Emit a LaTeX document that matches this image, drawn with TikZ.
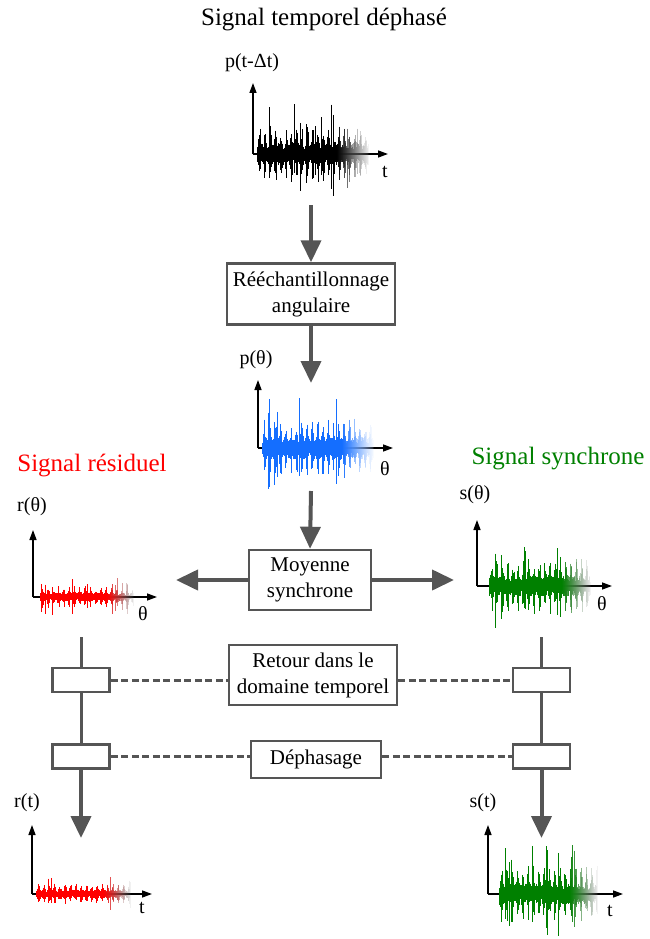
\documentclass[tikz,border=0pt]{standalone}
\usepackage{fontspec}
\setmainfont{Liberation Serif}
\usetikzlibrary{arrows.meta}
\definecolor{sigred}{RGB}{255,0,0}
\definecolor{siggreen}{RGB}{0,128,0}
\definecolor{sigblue}{RGB}{20,110,255}
\definecolor{boxgray}{RGB}{85,85,85}
\colorlet{fadeblue}{sigblue!30!white}
\colorlet{fadegray}{black!45}
\colorlet{fadebrown}{black!55}
\newcommand{\noisesig}[8]{%
  \pgfmathsetseed{#8}%
  \pgfmathtruncatemacro{\nsteps}{(#2-#1)/0.5}%
  \pgfmathsetmacro{\fs}{#1+0.72*(#2-#1)}%
  \foreach \k in {0,...,\nsteps}{%
    \pgfmathsetmacro{\xx}{#1+0.5*\k}%
    \pgfmathsetmacro{\fr}{\xx<\fs ? 0 : (\xx-\fs)/(#2-\fs)}%
    \pgfmathsetmacro{\op}{1-0.9*\fr}%
    \pgfmathtruncatemacro{\mixp}{100-100*\fr}%
    \pgfmathsetmacro{\envv}{0.5+0.9*abs(sin(34*(\xx-#1)))^6}%
    \pgfmathsetmacro{\isspk}{rnd<0.03 ? 1 : 0}%
    \pgfmathsetmacro{\up}{\isspk>0.5 ? #5*(0.45+0.55*rnd) : #4*\envv*(0.4+0.6*rnd)}%
    \pgfmathsetmacro{\dn}{\isspk>0.5 ? 0.85*#5*(0.45+0.55*rnd) : #4*\envv*(0.4+0.6*rnd)}%
    \draw[draw=#6!\mixp!#7, opacity=\op, line width=0.7pt] (\xx,#3-\up) -- (\xx,#3+\dn);
  }%
}
\tikzset{
  procbox/.style={draw=boxgray, line width=2.5pt, fill=white, align=center, inner sep=0pt,
    font=\rmfamily\fontsize{21}{26}\selectfont},
  smallbox/.style={draw=boxgray, line width=2.5pt, fill=white, inner sep=0pt,
    minimum width=57pt, minimum height=24pt},
  bigarrow/.style={draw=boxgray, line width=4pt, -{Triangle[width=20pt,length=22pt]}},
  connline/.style={draw=boxgray, line width=3pt},
  dashline/.style={draw=boxgray, line width=3pt, dash pattern=on 7pt off 3.5pt},
  axisline/.style={draw=black, line width=1.4pt, -{Triangle[width=7pt,length=10pt]}},
  axlabel/.style={font=\rmfamily\fontsize{20}{24}\selectfont, inner sep=0pt},
  bigtitle/.style={font=\rmfamily\fontsize{25}{30}\selectfont, inner sep=0pt}
}
\begin{document}
\begin{tikzpicture}[x=1pt, y=-1pt]
\useasboundingbox (0,0) rectangle (649,939);
% titles
\node[bigtitle] (title) at (324,20) {Signal temporel déphasé};
\node[bigtitle, text=sigred] (tres) at (92,466) {Signal résiduel};
\node[bigtitle, text=siggreen] (tsyn) at (558,459) {Signal synchrone};
% axes
\coordinate (o1) at (253,154); \coordinate (y1) at (253,83); \coordinate (x1) at (388,154);
\coordinate (o2) at (258,448); \coordinate (y2) at (258,380); \coordinate (x2) at (393,448);
\coordinate (o3) at (33,597); \coordinate (y3) at (33,530); \coordinate (x3) at (157,597);
\coordinate (o4) at (477,586); \coordinate (y4) at (477,520); \coordinate (x4) at (612,586);
\coordinate (o5) at (32,894); \coordinate (y5) at (32,825); \coordinate (x5) at (152,894);
\coordinate (o6) at (488,894); \coordinate (y6) at (488,825); \coordinate (x6) at (623,894);
\foreach \i in {1,...,6}{
  \draw[axisline] (o\i) -- (y\i);
  \draw[axisline] (o\i) -- (x\i);
}
\node[axlabel] (l1) at (252,63) {p(t-Δt)};
\node[axlabel] (t1) at (385,172) {t};
\node[axlabel] (l2) at (256,360) {p(θ)};
\node[axlabel] (t2) at (385,469) {θ};
\node[axlabel] (l3) at (32,507) {r(θ)};
\node[axlabel] (t3) at (143,614) {θ};
\node[axlabel] (l4) at (475,495) {s(θ)};
\node[axlabel] (t4) at (602,604) {θ};
\node[axlabel] (l5) at (27,803) {r(t)};
\node[axlabel] (t5) at (142,908) {t};
\node[axlabel] (l6) at (483,803) {s(t)};
\node[axlabel] (t6) at (610,911) {t};
% signals
\noisesig{257}{368}{154}{22}{50}{black}{fadegray}{11}
\noisesig{262}{373}{448}{22}{50}{sigblue}{fadeblue}{22}
\noisesig{40}{133}{597}{8}{22}{sigred}{fadebrown}{33}
\noisesig{489}{590}{586}{21}{52}{siggreen}{fadegray}{44}
\noisesig{36}{130}{894}{8}{21}{sigred}{fadebrown}{55}
\noisesig{499}{597}{894}{21}{52}{siggreen}{fadegray}{66}
% process boxes
\node[procbox, minimum width=168pt, minimum height=61pt] (b1) at (311,294) {Rééchantillonnage\\angulaire};
\node[procbox, minimum width=122pt, minimum height=60pt] (b2) at (310,580) {Moyenne\\synchrone};
\node[procbox, minimum width=168pt, minimum height=60pt] (b3) at (313,675) {Retour dans le\\domaine temporel};
\node[procbox, minimum width=130pt, minimum height=37pt] (b4) at (316,759.5) {Déphasage};
\node[smallbox] (L1) at (81,680) {};
\node[smallbox] (L2) at (81,756.5) {};
\node[smallbox] (R1) at (541.5,680) {};
\node[smallbox] (R2) at (541.5,756.5) {};
% coordinates for arrows
\coordinate (s1) at (311,205);
\coordinate (e2) at (311,383);
\coordinate (s3) at (311,491);
\coordinate (eL) at (176,580);
\coordinate (eR) at (454,580);
\coordinate (lt) at (81,637);
\coordinate (rt) at (541.5,637);
\coordinate (lb) at (81,838);
\coordinate (rb) at (541.5,838);
% arrows
\draw[bigarrow] (s1) -- (b1.north);
\draw[bigarrow] (b1.south) -- (e2);
\draw[bigarrow] (s3) -- (b2.north);
\draw[bigarrow] (b2.west) -- (eL);
\draw[bigarrow] (b2.east) -- (eR);
% vertical chains
\draw[connline] (lt) -- (L1.north);
\draw[connline] (L1.south) -- (L2.north);
\draw[bigarrow] (L2.south) -- (lb);
\draw[connline] (rt) -- (R1.north);
\draw[connline] (R1.south) -- (R2.north);
\draw[bigarrow] (R2.south) -- (rb);
% dashed links
\draw[dashline] (L1.east) -- (L1.east -| b3.west);
\draw[dashline] (R1.west -| b3.east) -- (R1.west);
\draw[dashline] (L2.east) -- (L2.east -| b4.west);
\draw[dashline] (R2.west -| b4.east) -- (R2.west);
\end{tikzpicture}
\end{document}
